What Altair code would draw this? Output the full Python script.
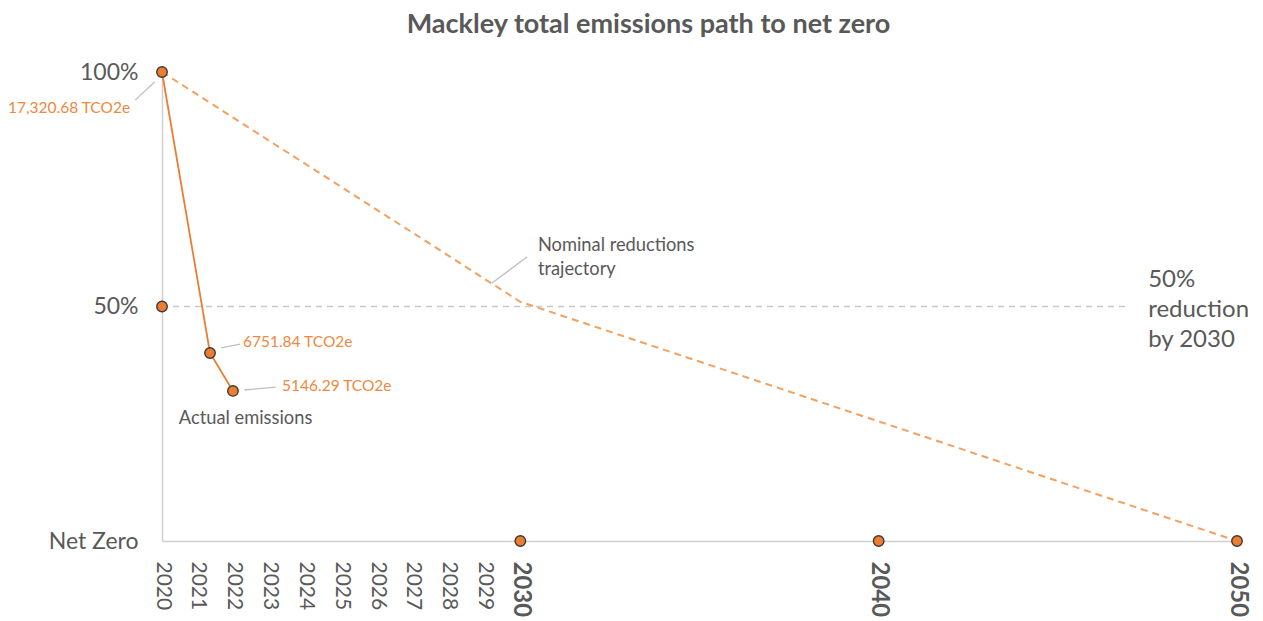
import altair as alt
import pandas as pd

FONT = "Lato"
GREY = "#595959"
ORANGE = "#ED7D31"
ORANGE_TXT = "#F0883E"

# --- data ---
traj_years = [2020, 2030, 2050]
traj_pct = [100, 51, 0]

actual_years = [2020, 2021.34, 2021.98]
actual_pct = [100, 40.1, 32.0]

marker_years = [2020, 2020, 2021.34, 2021.98, 2030, 2040, 2050]
marker_pct = [100, 50, 40.1, 32.0, 0, 0, 0]

target_pct = 50
target_x_start = 2020
target_x_end = 2046.9

x_tick_values = list(range(2020, 2031)) + [2040, 2050]
y_tick_values = [0, 50, 100]

# annotation texts (data-space anchors)
orange_labels = ["17,320.68 TCO2e", "6751.84 TCO2e", "5146.29 TCO2e"]
orange_label_x = [2019.11, 2022.26, 2023.35]
orange_label_y = [92.3, 42.4, 33.0]
orange_label_align = ["right", "left", "left"]

grey_labels = ["Actual emissions", "Nominal reductions", "trajectory"]
grey_label_x = [2020.47, 2030.49, 2030.49]
grey_label_y = [26.0, 62.9, 57.8]

big_labels = ["50%", "reduction", "by 2030"]
big_label_x = [2047.52, 2047.52, 2047.52]
big_label_y = [55.7, 49.3, 42.9]

leader_x = [2019.25, 2021.65, 2022.30, 2029.21]
leader_x2 = [2019.80, 2022.18, 2023.17, 2030.19]
leader_y = [94.0, 41.2, 32.2, 55.0]
leader_y2 = [97.9, 42.0, 32.8, 60.6]

xs = alt.Scale(domain=[2020, 2050], nice=False, zero=False)
ys = alt.Scale(domain=[0, 100], nice=False, zero=False)

x_axis = alt.Axis(
    values=x_tick_values,
    format="d",
    labelAngle=90,
    labelPadding=20,
    labelFontSize={"condition": {"test": "datum.value >= 2030", "value": 24}, "value": 21},
    labelFontWeight={"condition": {"test": "datum.value >= 2030", "value": "bold"}, "value": "normal"},
    title=None,
)
y_axis = alt.Axis(
    values=y_tick_values,
    labelExpr="datum.value == 0 ? 'Net Zero' : datum.value + '%'",
    labelFontSize=23,
    labelPadding=24,
    title=None,
)

target_df = pd.DataFrame({"x": [target_x_start], "x2": [target_x_end], "y": [target_pct]})
target = alt.Chart(target_df).mark_rule(color="#C8C8C8", strokeDash=[6, 5], strokeWidth=1.3).encode(
    x=alt.X("x:Q", scale=xs, axis=x_axis), x2="x2:Q", y=alt.Y("y:Q", scale=ys, axis=y_axis)
)

traj_df = pd.DataFrame({"x": traj_years, "y": traj_pct})
traj = alt.Chart(traj_df).mark_line(color="#F4A060", strokeDash=[7, 5], strokeWidth=2).encode(
    x=alt.X("x:Q", scale=xs), y=alt.Y("y:Q", scale=ys)
)

act_df = pd.DataFrame({"x": actual_years, "y": actual_pct})
act = alt.Chart(act_df).mark_line(color=ORANGE, strokeWidth=1.8).encode(
    x=alt.X("x:Q", scale=xs), y=alt.Y("y:Q", scale=ys)
)

lead_df = pd.DataFrame({"x": leader_x, "x2": leader_x2, "y": leader_y, "y2": leader_y2})
leaders = alt.Chart(lead_df).mark_rule(color="#BFBFBF", strokeWidth=1.3).encode(
    x=alt.X("x:Q", scale=xs), x2="x2:Q", y=alt.Y("y:Q", scale=ys), y2="y2:Q"
)

mk_df = pd.DataFrame({"x": marker_years, "y": marker_pct})
markers = alt.Chart(mk_df).mark_point(
    filled=True, fill=ORANGE, stroke="#3A3A3A", strokeWidth=1.4, size=110, opacity=1
).encode(x=alt.X("x:Q", scale=xs), y=alt.Y("y:Q", scale=ys))

ol_df = pd.DataFrame({"x": orange_label_x, "y": orange_label_y, "t": orange_labels, "a": orange_label_align})
ol_right = alt.Chart(ol_df[ol_df.a == "right"]).mark_text(
    align="right", baseline="middle", font=FONT, fontSize=15.5, color=ORANGE_TXT
).encode(x=alt.X("x:Q", scale=xs), y=alt.Y("y:Q", scale=ys), text="t:N")
ol_left = alt.Chart(ol_df[ol_df.a == "left"]).mark_text(
    align="left", baseline="middle", font=FONT, fontSize=15.5, color=ORANGE_TXT
).encode(x=alt.X("x:Q", scale=xs), y=alt.Y("y:Q", scale=ys), text="t:N")

gl_df = pd.DataFrame({"x": grey_label_x, "y": grey_label_y, "t": grey_labels})
gl = alt.Chart(gl_df).mark_text(
    align="left", baseline="middle", font=FONT, fontSize=18.3, color=GREY
).encode(x=alt.X("x:Q", scale=xs), y=alt.Y("y:Q", scale=ys), text="t:N")

bl_df = pd.DataFrame({"x": big_label_x, "y": big_label_y, "t": big_labels})
bl = alt.Chart(bl_df).mark_text(
    align="left", baseline="middle", font=FONT, fontSize=24, color=GREY
).encode(x=alt.X("x:Q", scale=xs), y=alt.Y("y:Q", scale=ys), text="t:N")

chart = (
    alt.layer(target, traj, act, leaders, markers, ol_right, ol_left, gl, bl)
    .properties(
        width=1075,
        height=469,
        autosize=alt.AutoSizeParams(type="none"),
        padding={"left": 154, "top": 64, "right": 18, "bottom": 82},
        title=alt.TitleParams(
            "Mackley total emissions path to net zero",
            font=FONT, fontSize=27, fontWeight="bold", color=GREY,
            anchor="middle", dx=-51, offset=22,
        ),
    )
    .configure_view(stroke=None)
    .configure_axis(
        domainColor="#D0D0D0", domainWidth=1.5, ticks=False, grid=False,
        labelColor=GREY, labelFont=FONT,
    )
)

chart.save("out.html", embed_options={"renderer": "svg", "actions": False})
